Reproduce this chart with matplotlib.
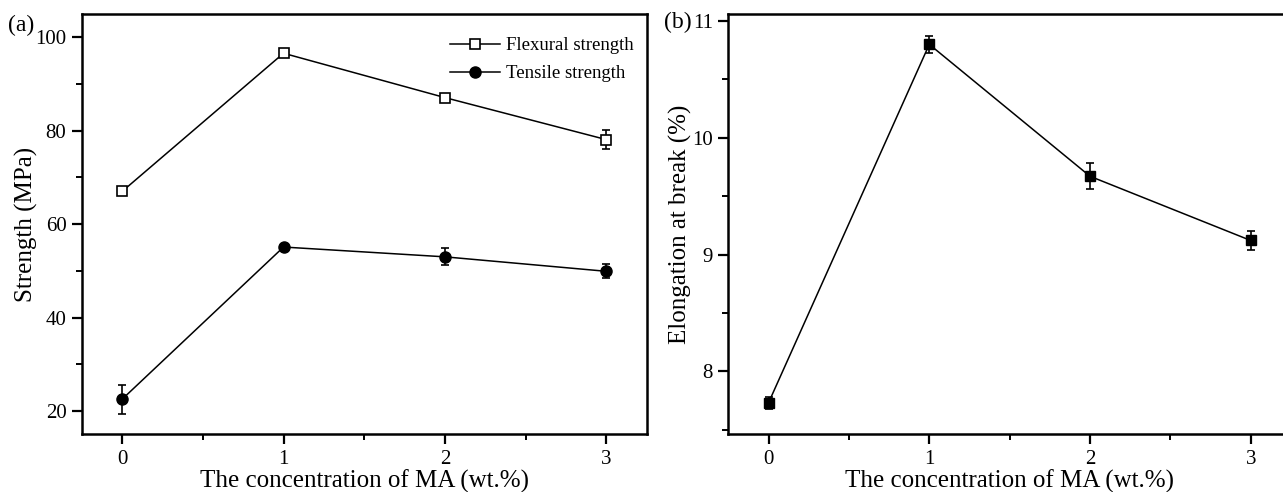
import numpy as np
import matplotlib.pyplot as plt
from matplotlib.ticker import MultipleLocator

plt.rcParams['font.family'] = ['Liberation Serif', 'DejaVu Serif']

# MA concentration (wt.%)
ma = [0, 1, 2, 3]

# (a) strength, MPa
flexural = [67.0, 96.6, 87.1, 78.1]
flexural_err = [0.6, 0.9, 0.5, 2.0]
tensile = [22.5, 55.1, 53.0, 49.9]
tensile_err = [3.1, 0.6, 1.8, 1.5]

# (b) elongation at break, %
elongation = [7.73, 10.80, 9.67, 9.12]
elongation_err = [0.05, 0.07, 0.11, 0.08]

fig = plt.figure(figsize=(12.83, 4.92), dpi=100)
ax1 = fig.add_axes([0.0637, 0.1173, 0.4404, 0.8542])
ax2 = fig.add_axes([0.5677, 0.1173, 0.4385, 0.8542])


def style_axis(ax):
    for sp in ax.spines.values():
        sp.set_linewidth(1.8)
    ax.tick_params(which='major', direction='out', length=7, width=1.6,
                   labelsize=15, pad=4)
    ax.tick_params(which='minor', direction='out', length=4, width=1.4)
    ax.xaxis.set_major_locator(MultipleLocator(1))
    ax.xaxis.set_minor_locator(MultipleLocator(0.5))
    ax.set_xlim(-0.25, 3.25)
    ax.set_xlabel('The concentration of MA (wt.%)', fontsize=18, labelpad=1)


# ----- (a) -----
ax1.errorbar(ma, flexural, yerr=flexural_err, color='black', lw=1.1,
             marker='s', ms=7.5, mfc='white', mec='black', mew=1.2,
             capsize=3, elinewidth=1.2, capthick=1.2, label='Flexural strength')
ax1.errorbar(ma, tensile, yerr=tensile_err, color='black', lw=1.1,
             marker='o', ms=8, mfc='black', mec='black',
             capsize=3, elinewidth=1.2, capthick=1.2, label='Tensile strength')
ax1.set_ylim(15, 105)
ax1.yaxis.set_major_locator(MultipleLocator(20))
ax1.yaxis.set_minor_locator(MultipleLocator(10))
style_axis(ax1)
ax1.set_ylabel('Strength (MPa)', fontsize=18, labelpad=-2)
handles, labels = ax1.get_legend_handles_labels()
handles = [h[0] for h in handles]
ax1.legend(handles, labels, loc='upper right', frameon=False, fontsize=13.5,
           handlelength=2.7, handletextpad=0.3, labelspacing=0.58,
           borderaxespad=0.3, bbox_to_anchor=(1.0, 0.976))
fig.text(0.006, 0.949, '(a)', fontsize=17, va='center', ha='left')

# ----- (b) -----
ax2.errorbar(ma, elongation, yerr=elongation_err, color='black', lw=1.1,
             marker='s', ms=6.5, mfc='black', mec='black',
             capsize=3, elinewidth=1.2, capthick=1.2)
ax2.set_ylim(7.46, 11.06)
ax2.yaxis.set_major_locator(MultipleLocator(1))
ax2.yaxis.set_minor_locator(MultipleLocator(0.5))
style_axis(ax2)
ax2.set_ylabel('Elongation at break (%)', fontsize=18, labelpad=0)
fig.text(0.5175, 0.955, '(b)', fontsize=17, va='center', ha='left')

fig.savefig('out.png', dpi=100)
